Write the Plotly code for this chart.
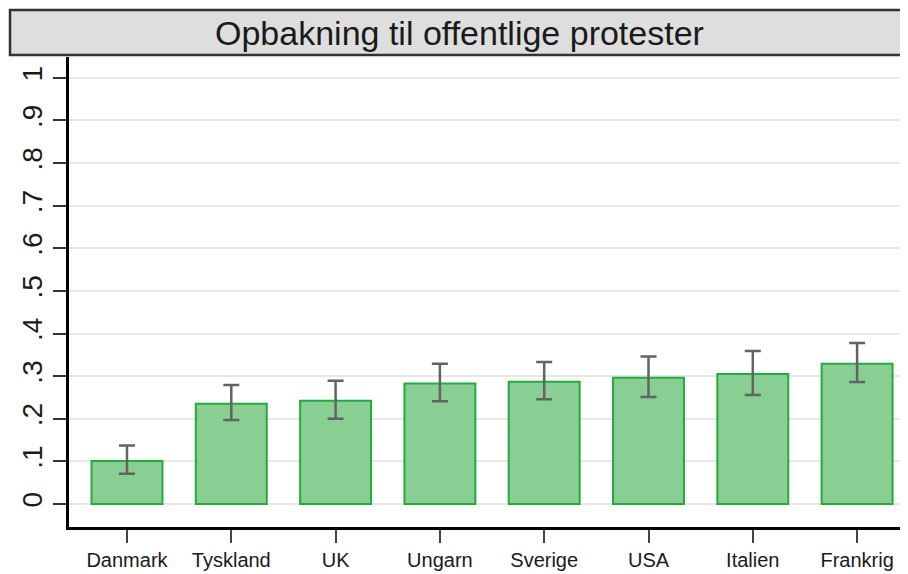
import plotly.graph_objects as go

# data
countries = ["Danmark", "Tyskland", "UK", "Ungarn", "Sverige", "USA", "Italien", "Frankrig"]
means = [0.101, 0.235, 0.242, 0.283, 0.287, 0.296, 0.305, 0.329]
ci_upper = [0.137, 0.279, 0.289, 0.329, 0.333, 0.346, 0.359, 0.378]
ci_lower = [0.071, 0.197, 0.200, 0.241, 0.246, 0.251, 0.256, 0.286]
y_ticks = [0, 0.1, 0.2, 0.3, 0.4, 0.5, 0.6, 0.7, 0.8, 0.9, 1]
y_tick_labels = ["0", ".1", ".2", ".3", ".4", ".5", ".6", ".7", ".8", ".9", "1"]
title = "Opbakning til offentlige protester"

err_plus = [u - m for u, m in zip(ci_upper, means)]
err_minus = [m - l for m, l in zip(means, ci_lower)]

fig = go.Figure()
fig.add_trace(go.Bar(
    x=list(range(len(countries))),
    y=means,
    width=0.68,
    marker=dict(color="#89CE92", line=dict(color="#22AC3E", width=2)),
    error_y=dict(type="data", symmetric=False, array=err_plus, arrayminus=err_minus,
                 color="#636363", thickness=2.5, width=8),
    hoverinfo="skip",
))

# page body has an 8px margin, so the figure is 8px smaller and shifted
fig.update_layout(
    width=900, height=566,
    margin=dict(l=61, r=0, t=49, b=47),
    paper_bgcolor="white", plot_bgcolor="white",
    showlegend=False,
    font=dict(family="Liberation Sans, Arial, sans-serif", color="#1a1a1a"),
)

fig.update_yaxes(
    range=[-0.054, 1.049],
    tickvals=y_ticks, ticktext=y_tick_labels,
    tickangle=-90,
    tickfont=dict(size=28),
    ticks="outside", ticklen=13, tickwidth=2, tickcolor="#333",
    showline=True, linecolor="black", linewidth=2.5,
    showgrid=True, gridcolor="#E8E8E8", gridwidth=1.5,
    zeroline=False,
)
fig.update_xaxes(
    range=[-0.556, 7.488],
    tickvals=list(range(len(countries))), ticktext=countries,
    tickfont=dict(size=20),
    ticks="outside", ticklen=13, tickwidth=2, tickcolor="#444",
    showline=True, linecolor="black", linewidth=2.5,
    showgrid=False, zeroline=False,
)

# grey title box like the Stata graph header
fig.add_shape(type="rect", xref="paper", yref="paper",
              x0=-0.0703, x1=1.01, y0=1.0043, y1=1.1,
              fillcolor="#DEDEDE", line=dict(color="#333", width=2.5))
fig.add_annotation(text=title, xref="paper", yref="paper",
                   x=(-0.0703 + 1.0) / 2, y=1.052, showarrow=False,
                   font=dict(size=34, color="#1a1a1a"), xanchor="center", yanchor="middle")

fig.write_html("out.html")
